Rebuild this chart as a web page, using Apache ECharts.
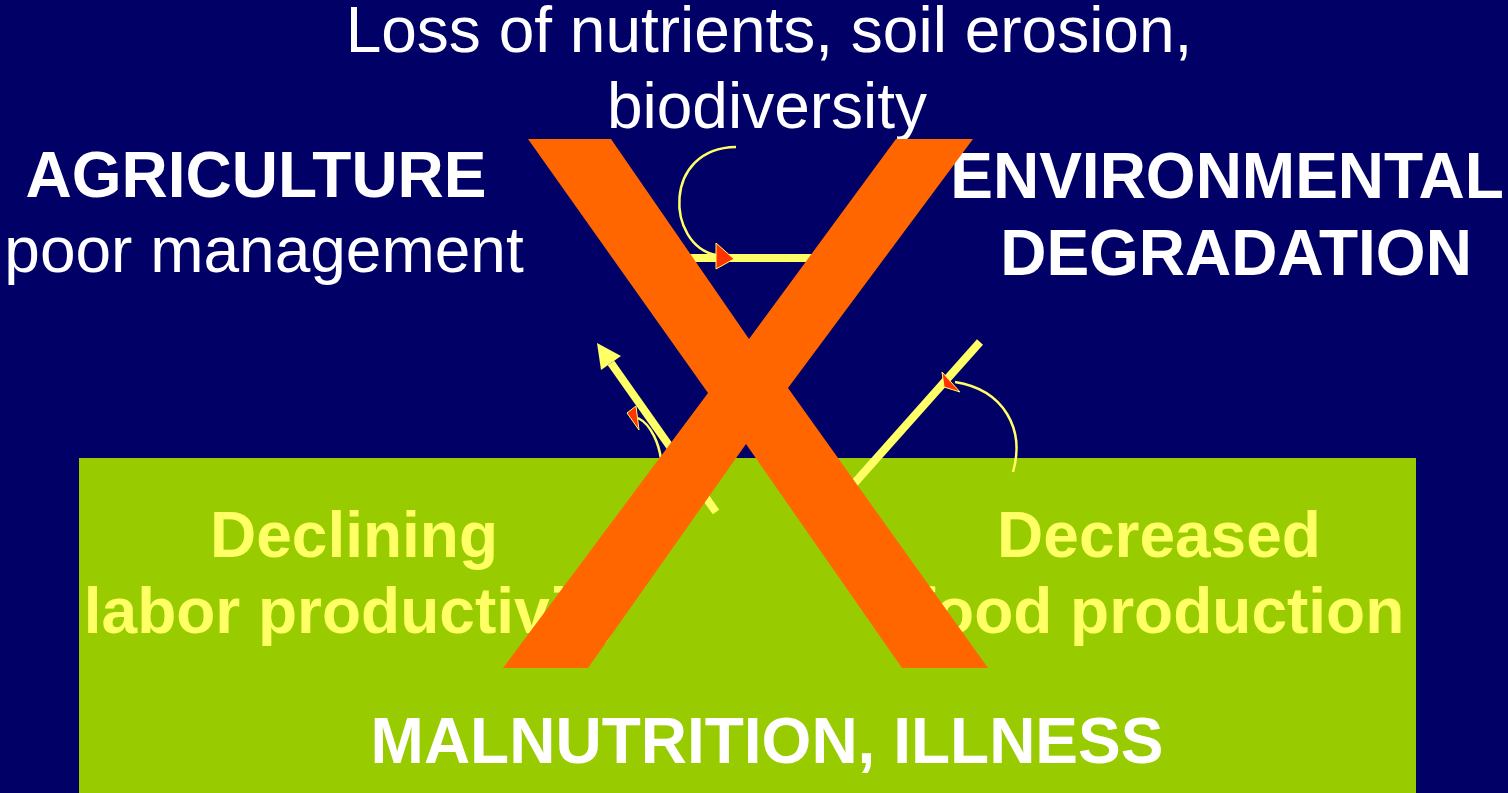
<!DOCTYPE html>
<html>
<head>
<meta charset="utf-8">
<script src="https://cdn.jsdelivr.net/npm/echarts@6/dist/echarts.min.js"></script>
<style>
  html, body { margin: 0; padding: 0; background: #000066; }
  #main { width: 1508px; height: 793px; }
</style>
</head>
<body>
<div id="main"></div>
<script>
// slide coordinates (x to the right, y downwards)
const labelTexts = [
  'Loss of nutrients, soil erosion,', 'biodiversity',
  'AGRICULTURE', 'poor management',
  'ENVIRONMENTAL', 'DEGRADATION',
  'Declining', 'labor productivity',
  'Decreased', 'food production',
  'MALNUTRITION, ILLNESS'
];
const labelAnchors = [
  [769, 34], [767, 110],
  [256, 179], [264, 254],
  [1227, 180], [1236, 257],
  [354, 539], [354, 615],
  [1159, 539], [1159, 615],
  [767, 745]
];
const labelBold = [0, 0, 1, 0, 1, 1, 1, 1, 1, 1, 1];
const labelYellow = [0, 0, 0, 0, 0, 0, 1, 1, 1, 1, 0];

const panelBox = [79, 458, 1416, 793];

const crossOutline = [
  [528, 139], [611, 139], [749, 339], [896, 139], [973, 139], [788, 388],
  [988, 668], [902, 668], [746, 444], [588, 668], [503, 668], [708, 393]
];

const linkPaths = [
  [[690, 258], [812, 258]],
  [[716, 512], [611, 363]],
  [[980, 342], [835, 505]]
];
const arrowHeads = [
  [[597, 343], [621, 356], [601, 370]]
];
const markerHeads = [
  [[716, 243], [716, 269], [734, 259]],
  [[627, 413], [636, 406], [639, 430]],
  [[942, 372], [944, 387], [960, 392]]
];
// start, control 1, control 2, end
const loopCurves = [
  [[736, 147], [662, 148], [666, 245], [716, 255]],
  [[661, 459], [659, 445], [652, 425], [638, 418]],
  [[1013, 472], [1025, 430], [1005, 390], [955, 382]]
];

const YELLOW = '#ffff66';
const chart = echarts.init(document.getElementById('main'));

const px = (api, pts) => pts.map(p => api.coord(p));

const option = {
  backgroundColor: '#000066',
  animation: false,
  grid: { left: 0, right: 0, top: 0, bottom: 0 },
  xAxis: { type: 'value', min: 0, max: 1508, show: false },
  yAxis: { type: 'value', min: 0, max: 793, inverse: true, show: false },
  series: [
    {
      name: 'panel', type: 'custom', z: 1, silent: true, clip: false,
      data: [panelBox],
      renderItem(params, api) {
        const a = api.coord([api.value(0), api.value(1)]);
        const b = api.coord([api.value(2), api.value(3)]);
        return { type: 'rect', shape: { x: a[0], y: a[1], width: b[0] - a[0], height: b[1] - a[1] },
          style: { fill: '#99cc00' } };
      }
    },
    {
      name: 'labels', type: 'custom', z: 2, silent: true, clip: false,
      data: labelAnchors,
      renderItem(params, api) {
        const i = params.dataIndex;
        const p = api.coord([api.value(0), api.value(1)]);
        return {
          type: 'text', x: p[0], y: p[1],
          style: {
            text: labelTexts[i],
            fill: labelYellow[i] ? YELLOW : '#ffffff',
            font: (labelBold[i] ? 'bold ' : '') + '64px "Liberation Sans", Arial, sans-serif',
            align: 'center', verticalAlign: 'middle'
          }
        };
      }
    },
    {
      name: 'links', type: 'custom', z: 3, silent: true, clip: false,
      data: linkPaths.map(p => p[0]),
      renderItem(params, api) {
        return { type: 'polyline', shape: { points: px(api, linkPaths[params.dataIndex]) },
          style: { stroke: YELLOW, lineWidth: 8, fill: null } };
      }
    },
    {
      name: 'loops', type: 'custom', z: 3, silent: true, clip: false,
      data: loopCurves.map(c => c[0]),
      renderItem(params, api) {
        const c = px(api, loopCurves[params.dataIndex]);
        return { type: 'bezierCurve',
          shape: { x1: c[0][0], y1: c[0][1], cpx1: c[1][0], cpy1: c[1][1],
                   cpx2: c[2][0], cpy2: c[2][1], x2: c[3][0], y2: c[3][1] },
          style: { stroke: YELLOW, lineWidth: 2.5, fill: null } };
      }
    },
    {
      name: 'arrowheads', type: 'custom', z: 4, silent: true, clip: false,
      data: arrowHeads.map(h => h[0]),
      renderItem(params, api) {
        return { type: 'polygon', shape: { points: px(api, arrowHeads[params.dataIndex]) },
          style: { fill: YELLOW } };
      }
    },
    {
      name: 'markers', type: 'custom', z: 4, silent: true, clip: false,
      data: markerHeads.map(h => h[0]),
      renderItem(params, api) {
        return { type: 'polygon', shape: { points: px(api, markerHeads[params.dataIndex]) },
          style: { fill: '#ff3300', stroke: YELLOW, lineWidth: 1 } };
      }
    },
    {
      name: 'cross', type: 'custom', z: 5, silent: true, clip: false,
      data: [crossOutline[0]],
      renderItem(params, api) {
        return { type: 'polygon', shape: { points: px(api, crossOutline) },
          style: { fill: '#ff6600' } };
      }
    }
  ]
};

chart.setOption(option);
</script>
</body>
</html>
